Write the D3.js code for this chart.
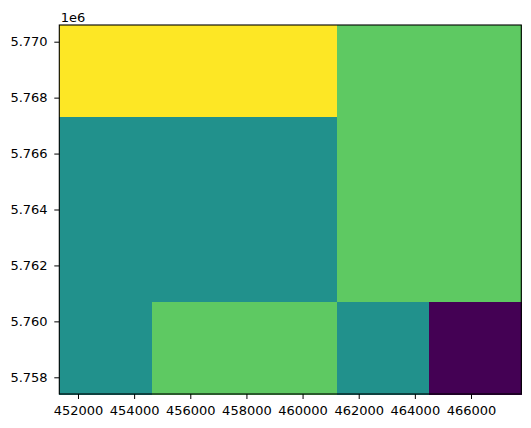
<!DOCTYPE html>
<html>
<head>
<meta charset="utf-8">
<script src="https://cdn.jsdelivr.net/npm/d3@7"></script>
<style>
  html, body { margin: 0; padding: 0; background: #fff; }
  svg { display: block; font-family: "DejaVu Sans", sans-serif; }
</style>
</head>
<body>
<svg id="chart" width="531" height="428"></svg>
<script>
// Raster grid (4 rows x 5 columns), top row first
const row0 = [4, 4, 4, 3, 3];
const row1 = [2, 2, 2, 3, 3];
const row2 = [2, 2, 2, 3, 3];
const row3 = [2, 3, 3, 2, 0];
const gridRows = [row0, row1, row2, row3];
const valueMin = 0;
const valueMax = 4;

// Georeference of the raster (upper-left corner and cell size)
const originX = 451334;
const originY = 5770597;
const cellW = 3291.6;
const cellH = 3298.5;

// Tick values
const xTicks = [452000, 454000, 456000, 458000, 460000, 462000, 464000, 466000];
const yTicks = [5758000, 5760000, 5762000, 5764000, 5766000, 5768000, 5770000];

const svg = d3.select("#chart");
const mLeft = 59.3, mRight = 521.3, mTop = 25, mBottom = 394;

const nCols = row0.length, nRows = gridRows.length;
const x = d3.scaleLinear()
  .domain([originX, originX + nCols * cellW])
  .range([mLeft, mRight]);
const y = d3.scaleLinear()
  .domain([originY - nRows * cellH, originY])
  .range([mBottom, mTop]);
const color = v => d3.interpolateViridis((v - valueMin) / (valueMax - valueMin));

const cells = [];
gridRows.forEach((r, i) => r.forEach((v, j) => cells.push({ i, j, v })));

svg.append("g")
  .attr("shape-rendering", "crispEdges")
  .selectAll("rect")
  .data(cells)
  .join("rect")
  .attr("x", d => x(originX + d.j * cellW))
  .attr("y", d => y(originY - d.i * cellH))
  .attr("width", d => x(originX + (d.j + 1) * cellW) - x(originX + d.j * cellW) + 0.6)
  .attr("height", d => y(originY - (d.i + 1) * cellH) - y(originY - d.i * cellH) + 0.6)
  .attr("fill", d => color(d.v));

// Axes
const xAxis = d3.axisBottom(x).tickValues(xTicks).tickFormat(d3.format("d"))
  .tickSize(5).tickPadding(6.7);
const yAxis = d3.axisLeft(y).tickValues(yTicks).tickFormat(d => (d / 1e6).toFixed(3))
  .tickSize(5).tickPadding(6.7);

const gx = svg.append("g").attr("transform", `translate(0,${mBottom})`).call(xAxis);
const gy = svg.append("g").attr("transform", `translate(${mLeft},0)`).call(yAxis);
[gx, gy].forEach(g => {
  g.select(".domain").remove();
  g.attr("font-size", null).attr("font-family", null);
  g.selectAll("text")
    .style("font-size", "13px")
    .style("font-family", "'DejaVu Sans', sans-serif")
    .attr("fill", "#000");
  g.selectAll("line").attr("stroke", "#000").attr("stroke-width", 1);
});

// Frame
svg.append("rect")
  .attr("x", mLeft).attr("y", mTop)
  .attr("width", mRight - mLeft).attr("height", mBottom - mTop)
  .attr("fill", "none").attr("stroke", "#000").attr("stroke-width", 1.1);

// Offset text
svg.append("text")
  .attr("x", mLeft + 1.5).attr("y", 21.5)
  .style("font-size", "13px").style("font-family", "'DejaVu Sans', sans-serif").attr("fill", "#000")
  .text("1e6");
</script>
</body>
</html>
